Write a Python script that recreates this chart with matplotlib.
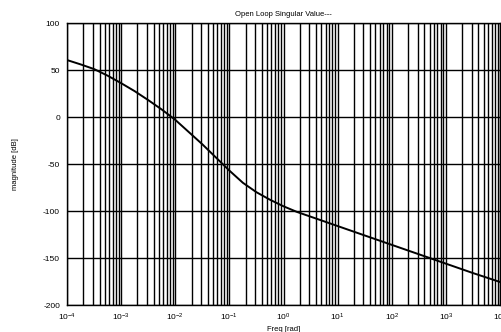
import matplotlib
matplotlib.use("Agg")
import matplotlib.pyplot as plt
from matplotlib.ticker import LogLocator, FixedLocator, NullFormatter
import numpy as np

plt.rcParams['font.family'] = ['Liberation Sans', 'DejaVu Sans']
plt.rcParams['mathtext.fontset'] = 'custom'
plt.rcParams['mathtext.rm'] = 'Liberation Sans'
plt.rcParams['mathtext.it'] = 'Liberation Sans'
plt.rcParams['axes.unicode_minus'] = False

# Data
log_freq = [-4.0, -3.75, -3.5, -3.25, -3.0, -2.75, -2.5, -2.25, -2.0, -1.75, -1.5,
            -1.25, -1.0, -0.75, -0.5, -0.25, 0.0, 0.25, 0.5, 1.0, 1.5, 2.0,
            2.5, 3.0, 3.5, 4.0]
magnitude_db = [60.6, 56.0, 51.0, 44.0, 36.0, 27.5, 18.0, 8.0, -3.0, -16.0, -29.0,
                -43.0, -57.0, -70.0, -80.0, -88.0, -95.0, -101.0, -106.0, -116.0, -126.0, -136.0,
                -146.0, -156.0, -166.0, -175.5]
title = "Open Loop Singular Value---"
xlabel = "Freq [rad]"
ylabel = "magnitude [dB]"
yticks = [-200, -150, -100, -50, 0, 50, 100]

freq = [10 ** v for v in log_freq]

fig = plt.figure(figsize=(5.02, 3.32), dpi=100)
ax = fig.add_axes([0.1335, 0.0813, 0.8625, 0.8494])
ax.semilogx(freq, magnitude_db, color='black', linewidth=1.4)
ax.set_xlim(1e-4, 1e4)
ax.set_ylim(-200, 100)
ax.yaxis.set_major_locator(FixedLocator(yticks))
ax.xaxis.set_major_locator(LogLocator(base=10, numticks=20))
ax.xaxis.set_minor_locator(LogLocator(base=10, subs=np.arange(2, 10), numticks=100))
ax.xaxis.set_minor_formatter(NullFormatter())
ax.grid(True, which='major', color='black', linewidth=1.0)
ax.grid(True, which='minor', axis='x', color='black', linewidth=1.0)
ax.tick_params(which='both', length=0, labelsize=6, pad=5)
for s in ax.spines.values():
    s.set_linewidth(1.0)
ax.set_title(title, fontsize=5.5, pad=5)
ax.set_xlabel(xlabel, fontsize=5.5, labelpad=2)
ax.set_ylabel(ylabel, fontsize=5.5, labelpad=17)
fig.savefig("out.png", dpi=100)
